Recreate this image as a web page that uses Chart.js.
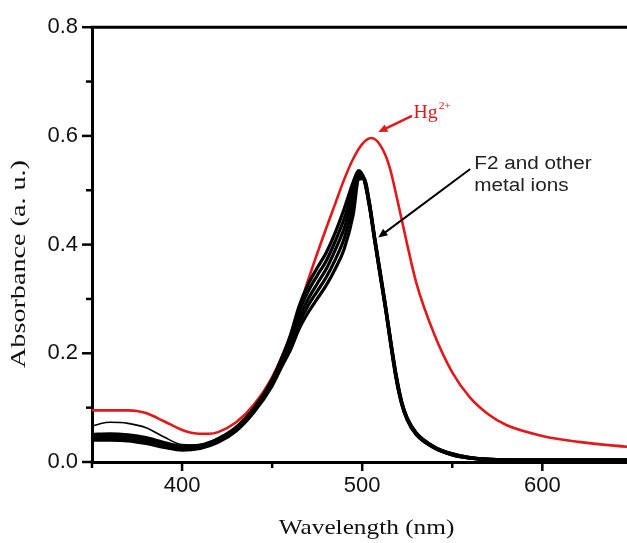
<!DOCTYPE html>
<html>
<head>
<meta charset="utf-8">
<script src="https://cdn.jsdelivr.net/npm/chart.js@4.4.0/dist/chart.umd.min.js"></script>
<style>
  html, body { margin: 0; padding: 0; background: #fff; }
  #wrap { position: relative; width: 627px; height: 543px; }
</style>
</head>
<body>
<div id="wrap"><canvas id="uvChart"></canvas></div>
<script>
// Hg2+ spectrum (red)
const hgWavelength = [350, 360, 370, 375, 380, 390, 400, 405, 410, 415, 420, 430, 440, 450, 460, 470, 480, 485, 490, 495, 500, 505, 510, 515, 520, 525, 530, 540, 550, 560, 570, 580, 600, 620, 650];
const hgAbs = [0.095, 0.095, 0.095, 0.094, 0.090, 0.075, 0.059, 0.054, 0.052, 0.052, 0.055, 0.073, 0.106, 0.156, 0.232, 0.335, 0.430, 0.475, 0.520, 0.558, 0.585, 0.596, 0.583, 0.545, 0.475, 0.400, 0.330, 0.235, 0.165, 0.118, 0.088, 0.068, 0.048, 0.037, 0.027];

// F2 and other metal ions (black bundle)
const ionWavelength = [350, 360, 370, 380, 390, 400, 410, 420, 430, 440, 450, 456, 460, 465, 470, 475, 480, 485, 490, 495, 498, 501, 504, 507, 510, 513, 516, 519, 522, 525, 530, 540, 550, 560, 580, 600, 650];
const ionAbsA = [0.051, 0.052, 0.050, 0.045, 0.036, 0.029, 0.031, 0.043, 0.064, 0.100, 0.152, 0.197, 0.232, 0.287, 0.327, 0.357, 0.385, 0.422, 0.466, 0.515, 0.536, 0.520, 0.470, 0.405, 0.342, 0.280, 0.212, 0.150, 0.105, 0.077, 0.050, 0.026, 0.013, 0.007, 0.003, 0.003, 0.003];
const ionAbsD = [0.049, 0.050, 0.048, 0.043, 0.034, 0.028, 0.030, 0.042, 0.063, 0.098, 0.149, 0.193, 0.226, 0.277, 0.314, 0.343, 0.370, 0.406, 0.448, 0.502, 0.534, 0.521, 0.472, 0.407, 0.344, 0.282, 0.214, 0.152, 0.107, 0.078, 0.051, 0.026, 0.013, 0.007, 0.003, 0.003, 0.003];
const ionAbsC = [0.046, 0.047, 0.045, 0.040, 0.032, 0.026, 0.028, 0.040, 0.061, 0.096, 0.146, 0.188, 0.218, 0.265, 0.300, 0.328, 0.355, 0.390, 0.430, 0.488, 0.530, 0.521, 0.474, 0.408, 0.346, 0.283, 0.216, 0.154, 0.108, 0.079, 0.052, 0.027, 0.014, 0.007, 0.004, 0.003, 0.003];
const ionAbsE = [0.043, 0.044, 0.042, 0.037, 0.030, 0.024, 0.026, 0.038, 0.059, 0.094, 0.143, 0.184, 0.212, 0.255, 0.288, 0.314, 0.340, 0.372, 0.411, 0.472, 0.526, 0.522, 0.476, 0.410, 0.348, 0.285, 0.218, 0.156, 0.109, 0.080, 0.053, 0.028, 0.015, 0.008, 0.004, 0.004, 0.004];
const ionAbsB = [0.040, 0.040, 0.039, 0.034, 0.027, 0.022, 0.025, 0.036, 0.057, 0.092, 0.140, 0.180, 0.205, 0.245, 0.275, 0.300, 0.325, 0.355, 0.392, 0.455, 0.520, 0.522, 0.478, 0.412, 0.350, 0.287, 0.220, 0.158, 0.110, 0.081, 0.054, 0.028, 0.015, 0.008, 0.004, 0.004, 0.004];
// one thinner trace that sits above the bundle at short wavelengths
const thinWavelength = [350, 355, 360, 370, 380, 390, 400, 410, 420, 430, 440, 450];
const thinAbs = [0.066, 0.071, 0.073, 0.071, 0.063, 0.046, 0.032, 0.031, 0.041, 0.062, 0.098, 0.150];

const xTicks = [400, 500, 600];
const xMinorTicks = [350, 450, 550];
const yTicks = [0, 0.2, 0.4, 0.6, 0.8];
const yMinorTicks = [0.1, 0.3, 0.5, 0.7];

const sans = '"Liberation Sans", Arial, sans-serif';
const serif = '"Liberation Serif", "Times New Roman", serif';

const pairs = (xs, ys) => xs.map((x, i) => ({ x: x, y: ys[i] }));

function line(label, xs, ys, color, width) {
  return {
    label: label,
    data: pairs(xs, ys),
    borderColor: color,
    borderWidth: width,
    pointRadius: 0,
    fill: false,
    cubicInterpolationMode: "monotone",
  };
}

function drawArrow(ctx, x1, y1, x2, y2, color, width, head) {
  const ang = Math.atan2(y2 - y1, x2 - x1);
  ctx.save();
  ctx.strokeStyle = color;
  ctx.fillStyle = color;
  ctx.lineWidth = width;
  ctx.beginPath();
  ctx.moveTo(x1, y1);
  ctx.lineTo(x2 - Math.cos(ang) * head * 0.7, y2 - Math.sin(ang) * head * 0.7);
  ctx.stroke();
  ctx.beginPath();
  ctx.moveTo(x2, y2);
  ctx.lineTo(x2 - head * Math.cos(ang - 0.42), y2 - head * Math.sin(ang - 0.42));
  ctx.lineTo(x2 - head * Math.cos(ang + 0.42), y2 - head * Math.sin(ang + 0.42));
  ctx.closePath();
  ctx.fill();
  ctx.restore();
}

// text squeezed/stretched along its own direction
function stretchText(ctx, text, x, y, font, color, sx, rot, align) {
  ctx.save();
  ctx.translate(x, y);
  if (rot) ctx.rotate(rot);
  ctx.scale(sx, 1);
  ctx.font = font;
  ctx.fillStyle = color;
  ctx.textAlign = align || "left";
  ctx.textBaseline = "alphabetic";
  ctx.fillText(text, 0, 0);
  const w = ctx.measureText(text).width * sx;
  ctx.restore();
  return w;
}

const decorations = {
  id: "decorations",
  afterDraw(chart) {
    const ctx = chart.ctx;
    const area = chart.chartArea;
    const xs = chart.scales.x;
    const ys = chart.scales.y;

    ctx.save();
    ctx.strokeStyle = "#000";
    ctx.lineWidth = 3;
    ctx.beginPath();
    ctx.moveTo(area.left - 1.5, area.top);
    ctx.lineTo(area.right, area.top);
    ctx.stroke();

    ctx.lineWidth = 2.5;
    const tick = (x1, y1, x2, y2) => {
      ctx.beginPath();
      ctx.moveTo(x1, y1);
      ctx.lineTo(x2, y2);
      ctx.stroke();
    };
    xTicks.forEach(v => { const p = xs.getPixelForValue(v); tick(p, area.bottom, p, area.bottom + 9); });
    xMinorTicks.forEach(v => { const p = xs.getPixelForValue(v); tick(p, area.bottom, p, area.bottom + 6); });
    yTicks.forEach(v => { const p = ys.getPixelForValue(v); tick(area.left, p, area.left - 10, p); });
    yMinorTicks.forEach(v => { const p = ys.getPixelForValue(v); tick(area.left, p, area.left - 6, p); });
    ctx.restore();

    // axis titles
    stretchText(ctx, "Wavelength (nm)", (area.left + area.right) / 2 + 7, 534, "22px " + serif, "#111", 1.15, 0, "center");
    stretchText(ctx, "Absorbance (a. u.)", 25, 264, "22px " + serif, "#111", 1.28, -Math.PI / 2, "center");

    // Hg2+ label and arrow
    const px = (v) => xs.getPixelForValue(v);
    const py = (v) => ys.getPixelForValue(v);
    drawArrow(ctx, px(527.6), py(0.637), px(508.9), py(0.607), "#e0191b", 2.5, 10);
    const hgW = stretchText(ctx, "Hg", px(528.5), py(0.633), "18px " + serif, "#e0191b", 1.1);
    stretchText(ctx, "2+", px(528.5) + hgW + 1, py(0.633) - 9, "11px " + serif, "#e0191b", 1.05);

    // F2 label and arrow
    drawArrow(ctx, px(560), py(0.539), px(508.9), py(0.413), "#000", 2, 10);
    stretchText(ctx, "F2 and other", px(562.2), py(0.540), "18px " + sans, "#222", 1.15);
    stretchText(ctx, "metal ions", px(562.2), py(0.499), "18px " + sans, "#222", 1.15);
  },
};

const datasets = [
  line("F2 A", ionWavelength, ionAbsA, "#000", 3.2),
  line("F2 D", ionWavelength, ionAbsD, "#000", 3.2),
  line("F2 C", ionWavelength, ionAbsC, "#000", 3.2),
  line("F2 E", ionWavelength, ionAbsE, "#000", 3.2),
  line("F2 B", ionWavelength, ionAbsB, "#000", 3.2),
  line("F2 thin", thinWavelength, thinAbs, "#000", 1.6),
  line("Hg2+", hgWavelength, hgAbs, "#e0191b", 2.6),
];

const config = {
  type: "line",
  data: { datasets: datasets },
  options: {
    responsive: true,
    maintainAspectRatio: false,
    animation: false,
    layout: { padding: { top: 26, right: 0, bottom: 0, left: 0 } },
    plugins: {
      legend: { display: false },
      tooltip: { enabled: false },
    },
    scales: {
      x: {
        type: "linear",
        min: 350,
        max: 647,
        afterFit: (scale) => { scale.height = 81; },
        afterBuildTicks: (scale) => { scale.ticks = xTicks.map(v => ({ value: v })); },
        ticks: {
          padding: 11,
          color: "#111",
          font: { family: sans, size: 22 },
          maxRotation: 0,
        },
        grid: { display: true, drawOnChartArea: false, drawTicks: false },
        border: { display: true, color: "#000", width: 3 },
      },
      y: {
        min: 0,
        max: 0.8,
        afterFit: (scale) => { scale.width = 92; },
        afterBuildTicks: (scale) => { scale.ticks = yTicks.map(v => ({ value: v })); },
        ticks: {
          padding: 14,
          color: "#111",
          font: { family: sans, size: 22 },
          callback: (v) => Number(v).toFixed(1),
        },
        grid: { display: true, drawOnChartArea: false, drawTicks: false },
        border: { display: true, color: "#000", width: 3 },
      },
    },
  },
  plugins: [decorations],
};

new Chart(document.getElementById("uvChart"), config);
</script>
</body>
</html>
